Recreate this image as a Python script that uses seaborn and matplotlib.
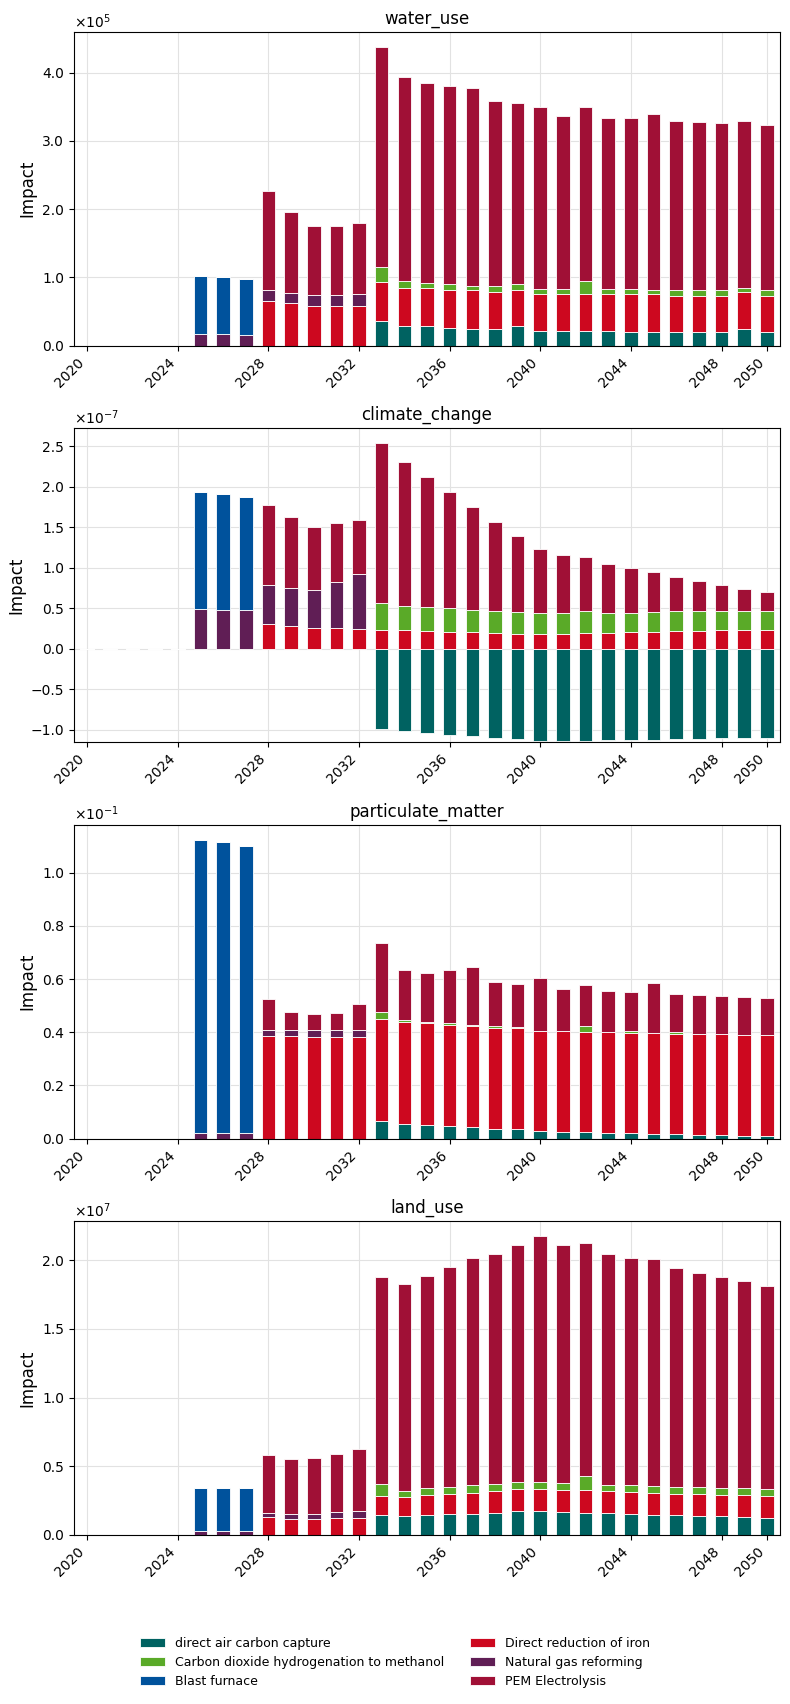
import numpy as np
import pandas as pd
import seaborn as sns
import matplotlib
matplotlib.use("Agg")
import matplotlib.pyplot as plt
from matplotlib.ticker import ScalarFormatter


sns.set_style("ticks", {
    "axes.grid": True,
    "axes.edgecolor": "black",
    "axes.labelcolor": "black",
    "text.color": "black",
    "xtick.color": "black",
    "ytick.color": "black",
    "grid.color": "#e2e2e2",
})
plt.rcParams["font.family"] = ["DejaVu Sans"]

YEARS = list(range(2020, 2051))
XTICKS = [2020, 2024, 2028, 2032, 2036, 2040, 2044, 2048, 2050]

PROCESSES = ["direct air carbon capture", "Carbon dioxide hydrogenation to methanol", "Blast furnace",
             "Direct reduction of iron", "Natural gas reforming", "PEM Electrolysis"]
STACK_ORDER = ["direct air carbon capture", "Direct reduction of iron",
               "Carbon dioxide hydrogenation to methanol", "Natural gas reforming",
               "Blast furnace", "PEM Electrolysis"]
COLORS = {"direct air carbon capture": "#006261",
          "Carbon dioxide hydrogenation to methanol": "#5aaa28",
          "Blast furnace": "#00529c",
          "Direct reduction of iron": "#cd081f",
          "Natural gas reforming": "#601e55",
          "PEM Electrolysis": "#a01036"}

# values per year 2020..2050, in displayed units (x scale)
# water_use, x1e5
WATER_DAC = [0, 0, 0, 0, 0, 0, 0, 0, 0, 0, 0, 0, 0, 0.36, 0.29, 0.28, 0.26, 0.25, 0.25, 0.28, 0.22,
             0.22, 0.22, 0.22, 0.205, 0.205, 0.205, 0.205, 0.205, 0.25, 0.205]
WATER_CO2H = [0, 0, 0, 0, 0, 0, 0, 0, 0, 0, 0, 0, 0, 0.22, 0.09, 0.08, 0.08, 0.07, 0.085, 0.08, 0.08,
              0.08, 0.20, 0.08, 0.08, 0.06, 0.08, 0.08, 0.08, 0.06, 0.08]
WATER_BF = [0, 0, 0, 0, 0, 0.85, 0.83, 0.82, 0, 0, 0, 0, 0, 0, 0, 0, 0, 0, 0, 0, 0,
            0, 0, 0, 0, 0, 0, 0, 0, 0, 0]
WATER_DRI = [0, 0, 0, 0, 0, 0, 0, 0, 0.65, 0.63, 0.58, 0.58, 0.58, 0.57, 0.56, 0.56, 0.56, 0.56, 0.54, 0.54, 0.53,
             0.53, 0.53, 0.53, 0.545, 0.545, 0.525, 0.525, 0.525, 0.53, 0.525]
WATER_NGR = [0, 0, 0, 0, 0, 0.17, 0.17, 0.16, 0.16, 0.14, 0.16, 0.16, 0.17, 0, 0, 0, 0, 0, 0, 0, 0,
             0, 0, 0, 0, 0, 0, 0, 0, 0, 0]
WATER_PEM = [0, 0, 0, 0, 0, 0, 0, 0, 1.45, 1.19, 1.01, 1.01, 1.05, 3.23, 2.99, 2.92, 2.91, 2.89, 2.705, 2.65, 2.66,
             2.54, 2.54, 2.51, 2.50, 2.58, 2.48, 2.46, 2.45, 2.45, 2.42]

# climate_change, x1e-7
CLIMATE_DAC = [0, 0, 0, 0, 0, 0, 0, 0, 0, 0, 0, 0, 0, -0.99, -1.02, -1.04, -1.064, -1.077, -1.10, -1.114, -1.14,
               -1.14, -1.14, -1.126, -1.126, -1.126, -1.114, -1.114, -1.10, -1.10, -1.10]
CLIMATE_CO2H = [0, 0, 0, 0, 0, 0, 0, 0, 0, 0, 0, 0, 0, 0.34, 0.30, 0.296, 0.297, 0.273, 0.272, 0.274, 0.26,
                0.26, 0.272, 0.246, 0.234, 0.248, 0.246, 0.246, 0.236, 0.236, 0.236]
CLIMATE_BF = [0, 0, 0, 0, 0, 1.443, 1.432, 1.406, 0, 0, 0, 0, 0, 0, 0, 0, 0, 0, 0, 0, 0,
              0, 0, 0, 0, 0, 0, 0, 0, 0, 0]
CLIMATE_DRI = [0, 0, 0, 0, 0, 0, 0, 0, 0.30, 0.28, 0.256, 0.256, 0.24, 0.23, 0.23, 0.22, 0.206, 0.206, 0.194, 0.18,
               0.18, 0.18, 0.194, 0.194, 0.206, 0.206, 0.22, 0.22, 0.23, 0.23, 0.23]
CLIMATE_NGR = [0, 0, 0, 0, 0, 0.487, 0.474, 0.474, 0.49, 0.47, 0.47, 0.569, 0.684, 0, 0, 0, 0, 0, 0, 0, 0,
               0, 0, 0, 0, 0, 0, 0, 0, 0, 0]
CLIMATE_PEM = [0, 0, 0, 0, 0, 0, 0, 0, 0.99, 0.88, 0.774, 0.722, 0.66, 1.97, 1.778, 1.604, 1.432, 1.27, 1.094, 0.936,
               0.79, 0.715, 0.664, 0.604, 0.554, 0.491, 0.417, 0.367, 0.318, 0.268, 0.231]

# particulate_matter, x1e-1
PM_DAC = [0, 0, 0, 0, 0, 0, 0, 0, 0, 0, 0, 0, 0, 0.065, 0.055, 0.052, 0.048, 0.044, 0.036, 0.036, 0.029,
          0.025, 0.025, 0.021, 0.021, 0.018, 0.018, 0.014, 0.014, 0.010, 0.010]
PM_CO2H = [0, 0, 0, 0, 0, 0, 0, 0, 0, 0, 0, 0, 0, 0.027, 0.008, 0.002, 0.006, 0.002, 0.006, 0.002, 0.001,
           0.001, 0.022, 0.001, 0.006, 0.001, 0.005, 0.001, 0.001, 0.001, 0.001]
PM_BF = [0, 0, 0, 0, 0, 1.104, 1.094, 1.079, 0, 0, 0, 0, 0, 0, 0, 0, 0, 0, 0, 0, 0,
         0, 0, 0, 0, 0, 0, 0, 0, 0, 0]
PM_DRI = [0, 0, 0, 0, 0, 0, 0, 0, 0.386, 0.386, 0.382, 0.382, 0.382, 0.385, 0.384, 0.383, 0.38, 0.38, 0.38, 0.38,
          0.376, 0.38, 0.376, 0.38, 0.376, 0.379, 0.376, 0.38, 0.38, 0.38, 0.38]
PM_NGR = [0, 0, 0, 0, 0, 0.021, 0.021, 0.021, 0.024, 0.024, 0.026, 0.026, 0.028, 0, 0, 0, 0, 0, 0, 0, 0,
          0, 0, 0, 0, 0, 0, 0, 0, 0, 0]
PM_PEM = [0, 0, 0, 0, 0, 0, 0, 0, 0.116, 0.067, 0.061, 0.065, 0.097, 0.26, 0.188, 0.187, 0.201, 0.221, 0.168, 0.164,
          0.199, 0.158, 0.156, 0.154, 0.149, 0.188, 0.146, 0.146, 0.142, 0.142, 0.139]

# land_use, x1e7
LAND_DAC = [0, 0, 0, 0, 0, 0, 0, 0, 0, 0, 0, 0, 0, 0.146, 0.138, 0.146, 0.153, 0.153, 0.16, 0.175, 0.175,
            0.167, 0.16, 0.16, 0.153, 0.146, 0.146, 0.138, 0.138, 0.131, 0.124]
LAND_CO2H = [0, 0, 0, 0, 0, 0, 0, 0, 0, 0, 0, 0, 0, 0.087, 0.039, 0.046, 0.047, 0.054, 0.046, 0.051, 0.051,
             0.051, 0.102, 0.047, 0.051, 0.051, 0.052, 0.051, 0.051, 0.051, 0.049]
LAND_BF = [0, 0, 0, 0, 0, 0.315, 0.315, 0.315, 0, 0, 0, 0, 0, 0, 0, 0, 0, 0, 0, 0, 0,
           0, 0, 0, 0, 0, 0, 0, 0, 0, 0]
LAND_DRI = [0, 0, 0, 0, 0, 0, 0, 0, 0.129, 0.117, 0.117, 0.124, 0.124, 0.138, 0.141, 0.148, 0.147, 0.155, 0.163,
            0.16, 0.16, 0.161, 0.168, 0.16, 0.16, 0.16, 0.154, 0.158, 0.151, 0.158, 0.16]
LAND_NGR = [0, 0, 0, 0, 0, 0.027, 0.027, 0.027, 0.034, 0.036, 0.036, 0.043, 0.051, 0, 0, 0, 0, 0, 0, 0, 0,
            0, 0, 0, 0, 0, 0, 0, 0, 0, 0]
LAND_PEM = [0, 0, 0, 0, 0, 0, 0, 0, 0.42, 0.40, 0.408, 0.423, 0.451, 1.508, 1.51, 1.546, 1.604, 1.655, 1.677,
            1.726, 1.791, 1.733, 1.696, 1.679, 1.653, 1.653, 1.592, 1.561, 1.539, 1.51, 1.48]


class OneDecimalFormatter(ScalarFormatter):
    def _set_format(self):
        self.format = "%1.1f"


def get_df(lst_dac, lst_co2h, lst_bf, lst_dri, lst_ngr, lst_pem, scale):
    df = pd.DataFrame({"year": YEARS,
                       "direct air carbon capture": lst_dac,
                       "Carbon dioxide hydrogenation to methanol": lst_co2h,
                       "Blast furnace": lst_bf,
                       "Direct reduction of iron": lst_dri,
                       "Natural gas reforming": lst_ngr,
                       "PEM Electrolysis": lst_pem})
    df[PROCESSES] = df[PROCESSES].mul(scale)
    return df


def plot_stack(ax, df, title):
    pos = np.zeros(len(df))
    neg = np.zeros(len(df))
    dct_handles = {}
    for p in STACK_ORDER:
        vals = df[p].to_numpy()
        bottom = np.where(vals < 0, neg, pos)
        bars = ax.bar(df["year"], vals, width=0.6, bottom=bottom, color=COLORS[p],
                      edgecolor="white", linewidth=0.6, label=p)
        # only the zero line should stop the autoscale margin
        for rect in bars:
            rect.sticky_edges.y[:] = [0]
        pos += np.where(vals >= 0, vals, 0)
        neg += np.where(vals < 0, vals, 0)
        dct_handles[p] = bars
    ax.set_axisbelow(True)
    ax.set_title(title, fontsize=12)
    ax.set_ylabel("Impact", fontsize=12)
    ax.set_xlim(2019.42, 2050.58)
    ax.set_xticks(XTICKS)
    ax.set_xticklabels([str(y) for y in XTICKS], rotation=45, ha="right")
    fmt = OneDecimalFormatter(useMathText=True)
    fmt.set_powerlimits((0, 0))
    ax.yaxis.set_major_formatter(fmt)
    ax.grid(True, color="#e2e2e2", linewidth=0.8)
    ax.relim()
    ax.autoscale_view()
    if neg.min() < 0:
        ax.set_ylim(bottom=neg.min() * 1.01)
    return dct_handles


fig, axs = plt.subplots(4, 1, figsize=(7.9, 17.04))
fig.subplots_adjust(left=0.0937, right=0.9873, top=0.9814, bottom=0.0992, hspace=0.263)

panels = [("water_use", get_df(WATER_DAC, WATER_CO2H, WATER_BF, WATER_DRI, WATER_NGR, WATER_PEM, 1e5)),
          ("climate_change", get_df(CLIMATE_DAC, CLIMATE_CO2H, CLIMATE_BF, CLIMATE_DRI, CLIMATE_NGR, CLIMATE_PEM, 1e-7)),
          ("particulate_matter", get_df(PM_DAC, PM_CO2H, PM_BF, PM_DRI, PM_NGR, PM_PEM, 1e-1)),
          ("land_use", get_df(LAND_DAC, LAND_CO2H, LAND_BF, LAND_DRI, LAND_NGR, LAND_PEM, 1e7))]

for ax, (title, df) in zip(axs, panels):
    dct_handles = plot_stack(ax, df, title)

fig.legend([dct_handles[p] for p in PROCESSES], PROCESSES, loc="center",
           bbox_to_anchor=(0.5, 0.0245), ncol=2, frameon=False, fontsize=9)

fig.savefig("out.png", dpi=100)
